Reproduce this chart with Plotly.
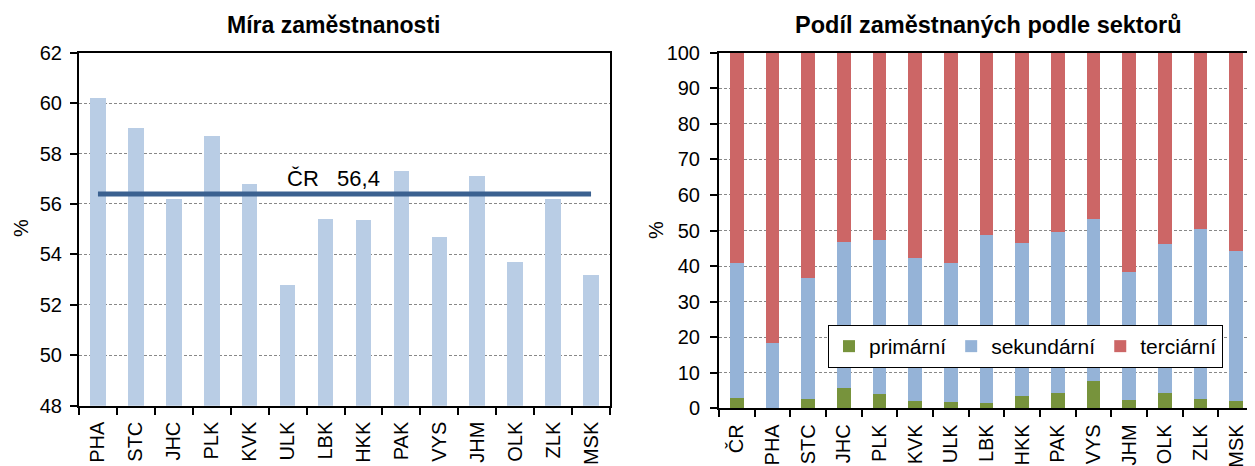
import plotly.graph_objects as go

# The page body adds an 8px margin; lay the figure out in reference pixels minus that offset.
OFF = 8
W, H = 1255 - OFF, 466 - OFF

# ---- data ----
regions_left = ["PHA", "STC", "JHC", "PLK", "KVK", "ULK", "LBK", "HKK", "PAK", "VYS", "JHM", "OLK", "ZLK", "MSK"]
employment_rate = [60.2, 59.0, 56.2, 58.7, 56.8, 52.8, 55.4, 55.35, 57.3, 54.7, 57.1, 53.7, 56.2, 53.2]
cr_rate = 56.4
cr_label = "ČR   56,4"

regions_right = ["ČR", "PHA", "STC", "JHC", "PLK", "KVK", "ULK", "LBK", "HKK", "PAK", "VYS", "JHM", "OLK", "ZLK", "MSK"]
primary = [2.8, 0.1, 2.6, 5.7, 4.1, 2.1, 1.8, 1.5, 3.5, 4.3, 7.6, 2.4, 4.3, 2.6, 2.1]
secondary = [38.0, 18.4, 34.0, 41.0, 43.2, 40.3, 39.2, 47.2, 43.1, 45.4, 45.6, 36.0, 41.9, 47.8, 42.2]
tertiary = [round(100 - p - s, 1) for p, s in zip(primary, secondary)]

title_left = "Míra zaměstnanosti"
title_right = "Podíl zaměstnaných podle sektorů"

FONT = "Liberation Sans, Arial, sans-serif"
FS = 20

def px_x(x):
    return (x - OFF) / W

def px_y(y):
    return 1 - (y - OFF) / H

fig = go.Figure()

fig.add_trace(go.Bar(x=regions_left, y=employment_rate, marker_color="#B9CDE5",
                     marker_line_width=0, xaxis="x", yaxis="y", showlegend=False, width=0.41))
fig.add_trace(go.Scatter(x=regions_left, y=[cr_rate] * len(regions_left), mode="lines",
                         line=dict(color="#3B6190", width=5), xaxis="x", yaxis="y",
                         showlegend=False))

fig.add_trace(go.Bar(x=regions_right, y=primary, name="primární", marker_color="#77933C",
                     marker_line_width=0, xaxis="x2", yaxis="y2", width=0.39))
fig.add_trace(go.Bar(x=regions_right, y=secondary, name="sekundární", marker_color="#95B3D7",
                     marker_line_width=0, xaxis="x2", yaxis="y2", width=0.39))
fig.add_trace(go.Bar(x=regions_right, y=tertiary, name="terciární", marker_color="#CC6666",
                     marker_line_width=0, xaxis="x2", yaxis="y2", width=0.39))

axis_common = dict(showline=True, linecolor="black", linewidth=2, mirror=True,
                   ticks="outside", ticklen=7, tickcolor="black", tickwidth=1.5,
                   tickfont=dict(family=FONT, size=FS, color="black"), automargin=False)

fig.update_layout(
    width=W, height=H,
    margin=dict(l=0, r=0, t=0, b=0),
    paper_bgcolor="white", plot_bgcolor="white",
    barmode="stack",
    font=dict(family=FONT, size=FS, color="black"),
    xaxis=dict(domain=[px_x(79), px_x(610)], anchor="y", type="category",
               tickangle=-90, tickson="boundaries", showgrid=False, ticklabelstandoff=6,
               **axis_common),
    yaxis=dict(domain=[px_y(405.7), px_y(52.7)], anchor="x", range=[48, 62], dtick=2,
               showgrid=True, gridcolor="#888888", griddash="3px,2px", gridwidth=1,
               ticklabelstandoff=4, **axis_common),
    xaxis2=dict(domain=[px_x(719), px_x(1254)], anchor="y2", type="category",
                tickangle=-90, tickson="boundaries", showgrid=False, ticklabelstandoff=6,
                **axis_common),
    yaxis2=dict(domain=[px_y(408.3), px_y(52.7)], anchor="x2", range=[0, 100], dtick=10,
                showgrid=True, gridcolor="#888888", griddash="3px,2px", gridwidth=1,
                ticklabelstandoff=6, **axis_common),
    legend=dict(orientation="h", x=px_x(828), y=px_y(325), xanchor="left", yanchor="top",
                bgcolor="white", bordercolor="black", borderwidth=1,
                font=dict(family=FONT, size=21, color="black"), traceorder="normal"),
    annotations=[
        dict(text="<b>%s</b>" % title_left, x=px_x(333), y=px_y(25), xref="paper", yref="paper",
             showarrow=False, font=dict(family=FONT, size=23, color="black"),
             xanchor="center", yanchor="middle"),
        dict(text="<b>%s</b>" % title_right, x=px_x(988), y=px_y(25), xref="paper", yref="paper",
             showarrow=False, font=dict(family=FONT, size=23.5, color="black"),
             xanchor="center", yanchor="middle"),
        dict(text="%", x=0, y=px_y(228), xref="paper", yref="paper", textangle=-90,
             showarrow=False, font=dict(family=FONT, size=FS, color="black"),
             xanchor="left", yanchor="middle"),
        dict(text="%", x=px_x(656), y=px_y(230), xref="paper", yref="paper", textangle=-90,
             showarrow=False, font=dict(family=FONT, size=FS, color="black"),
             xanchor="center", yanchor="middle"),
        dict(text=cr_label, x=6.2, y=57.03, xref="x", yref="y", showarrow=False,
             font=dict(family=FONT, size=22, color="black"), xanchor="center", yanchor="middle"),
    ],
)

fig.write_html("out.html")
